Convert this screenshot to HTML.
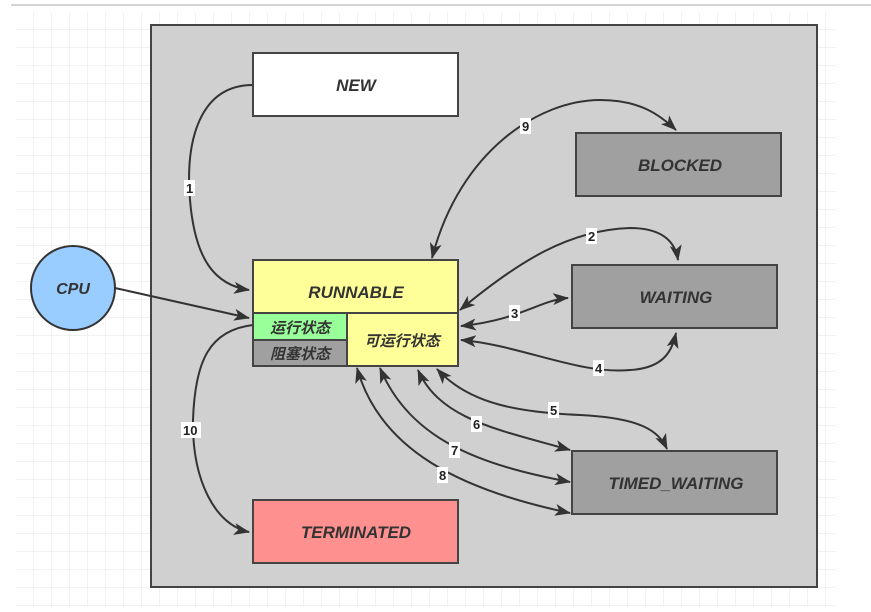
<!DOCTYPE html>
<html><head><meta charset="utf-8"><style>
body{margin:0;background:#fff;width:871px;height:607px;overflow:hidden}
svg text{font-family:"Liberation Sans","Noto Sans CJK SC",sans-serif;font-weight:bold;font-style:italic;fill:#333}
.n{font-style:normal;font-size:13px;fill:#222}
</style></head><body>
<svg width="871" height="607" xmlns="http://www.w3.org/2000/svg">
<defs>
<pattern id="g" x="16" y="12" width="18" height="18" patternUnits="userSpaceOnUse"><path d="M18 0V18H0" fill="none" stroke="#e6e6e6" stroke-width="1"/></pattern>
<marker id="a" markerWidth="16" markerHeight="12" refX="15" refY="6" orient="auto-start-reverse" markerUnits="userSpaceOnUse"><path d="M0 0L16 6L0 12L4 6Z" fill="#333"/></marker>
</defs>
<rect x="16" y="12" width="820" height="595" fill="url(#g)"/>
<line x1="11" y1="5" x2="871" y2="5" stroke="#aaa"/>
<rect x="151" y="25" width="666" height="562" fill="#d0d0d0" stroke="#444" stroke-width="2"/>
<g fill="none" stroke="#333" stroke-width="2">
<path d="M253 85C200 85 185 140 190 200C195 260 215 285 249 290" marker-end="url(#a)"/>
<path d="M115 288L249 318" marker-end="url(#a)"/>
<path d="M253 325C210 330 195 360 193 420C192 480 215 525 249 532" marker-end="url(#a)"/>
<path d="M432 258C460 150 540 100 600 100C640 100 660 115 676 130" marker-start="url(#a)" marker-end="url(#a)"/>
<path d="M460 310C520 260 570 230 630 228C660 228 675 240 678 260" marker-start="url(#a)" marker-end="url(#a)"/>
<path d="M461 326C520 320 540 300 568 298" marker-start="url(#a)" marker-end="url(#a)"/>
<path d="M461 340C520 345 580 375 630 370C665 368 672 350 676 333" marker-start="url(#a)" marker-end="url(#a)"/>
<path d="M437 369C470 405 520 412 580 415C640 418 658 430 667 449" marker-start="url(#a)" marker-end="url(#a)"/>
<path d="M418 370C440 420 500 430 570 450" marker-start="url(#a)" marker-end="url(#a)"/>
<path d="M380 368C410 440 480 465 570 482" marker-start="url(#a)" marker-end="url(#a)"/>
<path d="M357 368C380 450 460 490 570 513" marker-start="url(#a)" marker-end="url(#a)"/>
</g>
<circle cx="73" cy="288" r="42" fill="#99ccff" stroke="#333" stroke-width="2"/>
<text x="73" y="294" text-anchor="middle" font-size="16">CPU</text>
<g stroke="#444" stroke-width="2">
<rect x="253" y="53" width="205" height="63" fill="#fff"/>
<rect x="576" y="133" width="205" height="63" fill="#a0a0a0"/>
<rect x="572" y="265" width="205" height="63" fill="#a0a0a0"/>
<rect x="572" y="451" width="205" height="63" fill="#a0a0a0"/>
<rect x="253" y="500" width="205" height="63" fill="#ff9090"/>
<rect x="253" y="260" width="205" height="53" fill="#ffff99"/>
<rect x="253" y="313" width="94" height="27" fill="#99ff99"/>
<rect x="253" y="340" width="94" height="26" fill="#a0a0a0"/>
<rect x="347" y="313" width="111" height="53" fill="#ffff99"/>
</g>
<g font-size="17" text-anchor="middle">
<text x="356" y="91">NEW</text>
<text x="680" y="171">BLOCKED</text>
<text x="676" y="303">WAITING</text>
<text x="676" y="489">TIMED_WAITING</text>
<text x="356" y="538">TERMINATED</text>
<text x="356" y="298">RUNNABLE</text>
<text x="300" y="333" font-size="15">运行状态</text>
<text x="300" y="359" font-size="15">阻塞状态</text>
<text x="402" y="346" font-size="15">可运行状态</text>
</g>
<g>
<rect x="184" y="180" width="11" height="16" fill="#fff"/><text class="n" x="186" y="193">1</text>
<rect x="586" y="228" width="11" height="16" fill="#fff"/><text class="n" x="588" y="241">2</text>
<rect x="509" y="305" width="11" height="16" fill="#fff"/><text class="n" x="511" y="318">3</text>
<rect x="593" y="360" width="11" height="16" fill="#fff"/><text class="n" x="595" y="373">4</text>
<rect x="548" y="402" width="11" height="16" fill="#fff"/><text class="n" x="550" y="415">5</text>
<rect x="471" y="416" width="11" height="16" fill="#fff"/><text class="n" x="473" y="429">6</text>
<rect x="449" y="442" width="11" height="16" fill="#fff"/><text class="n" x="451" y="455">7</text>
<rect x="437" y="467" width="11" height="16" fill="#fff"/><text class="n" x="439" y="480">8</text>
<rect x="520" y="118" width="11" height="16" fill="#fff"/><text class="n" x="522" y="131">9</text>
<rect x="181" y="422" width="20" height="16" fill="#fff"/><text class="n" x="183" y="435">10</text>
</g>
</svg>
</body></html>
